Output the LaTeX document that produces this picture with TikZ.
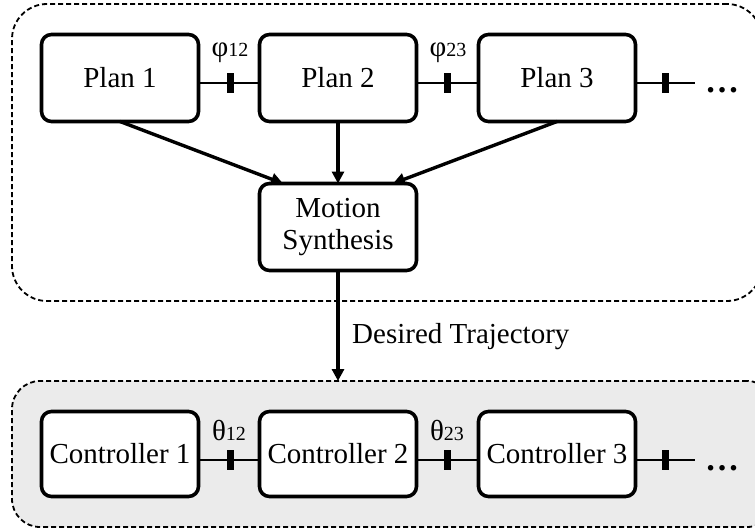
\documentclass[tikz,border=0pt]{standalone}
\usepackage{fontspec}
\setmainfont{Liberation Serif}
\usetikzlibrary{arrows.meta}
\definecolor{panelgray}{RGB}{235,235,235}
\newcommand\idx[1]{{\fontsize{20}{20}\selectfont #1}}
\begin{document}
\begin{tikzpicture}[x=1pt,y=-1pt,
  block/.style={draw,line width=3.6pt,rounded corners=10pt,minimum width=157pt,
    minimum height=87pt,inner sep=0pt,outer sep=0pt,fill=white,
    font=\fontsize{29}{32}\selectfont,align=center},
  group/.style={draw,dash pattern=on 5pt off 3pt,line width=1.8pt,inner sep=0pt,outer sep=0pt},
  link/.style={line width=2.4pt},
  flow/.style={line width=3.4pt,-{Triangle[length=12pt,width=12pt]}},
  tick/.style={fill=black,minimum width=7pt,minimum height=20pt,inner sep=0pt,outer sep=0pt},
  lbl/.style={font=\fontsize{29}{32}\selectfont,inner sep=0pt},
]
\useasboundingbox (0,0) rectangle (755,532);

% planning layer
\node[group,rounded corners=35pt,minimum width=750pt,minimum height=297pt] (plans) at (387,152.5) {};
% control layer
\node[group,rounded corners=28pt,fill=panelgray,minimum width=763pt,minimum height=146pt] (ctrls) at (393.5,454) {};

% plan blocks
\node[block] (p1) at (120,78) {Plan 1};
\node[block] (p2) at (338,78) {Plan 2};
\node[block] (p3) at (557,78) {Plan 3};
\node[block] (ms) at (338,227) {Motion\\Synthesis};

% controller blocks
\node[block,minimum height=85pt] (c1) at (120,454) {Controller 1};
\node[block,minimum height=85pt] (c2) at (338,454) {Controller 2};
\node[block,minimum height=85pt] (c3) at (557,454) {Controller 3};

% coupling lines between plans
\coordinate (prow) at (0,83);
\coordinate (pend) at (695,83);
\draw[link] (p1.east |- prow) -- (p2.west |- prow);
\draw[link] (p2.east |- prow) -- (p3.west |- prow);
\draw[link] (p3.east |- prow) -- (pend);
\node[tick] (pt12) at (230,83) {};
\node[tick] (pt23) at (447,83) {};
\node[tick] (pt34) at (665,83) {};
\node[lbl] (phi12) at (230,53) {φ\idx{12}};
\node[lbl] (phi23) at (448,53) {φ\idx{23}};
\node[lbl,anchor=base west,font=\fontsize{34}{34}\selectfont] (pdots) at (705,93) {\textbf{…}};

% coupling lines between controllers
\coordinate (crow) at (0,460);
\coordinate (cend) at (695,460);
\draw[link] (c1.east |- crow) -- (c2.west |- crow);
\draw[link] (c2.east |- crow) -- (c3.west |- crow);
\draw[link] (c3.east |- crow) -- (cend);
\node[tick] (ct12) at (230,460) {};
\node[tick] (ct23) at (447,460) {};
\node[tick] (ct34) at (665,460) {};
\node[lbl] (th12) at (229,430) {θ\idx{12}};
\node[lbl] (th23) at (447,430) {θ\idx{23}};
\node[lbl,anchor=base west,font=\fontsize{34}{34}\selectfont] (cdots) at (705,470) {\textbf{…}};

% plans feed the motion synthesis
\draw[flow] (p1.south) -- ([xshift=-55pt]ms.north);
\draw[flow] (p2.south) -- (ms.north);
\draw[flow] (p3.south) -- ([xshift=55pt]ms.north);

% desired trajectory to the controllers
\draw[flow] (ms.south) -- (ms.south |- ctrls.north);
\node[lbl,anchor=west] (traj) at (352,337) {Desired Trajectory};
\end{tikzpicture}
\end{document}
